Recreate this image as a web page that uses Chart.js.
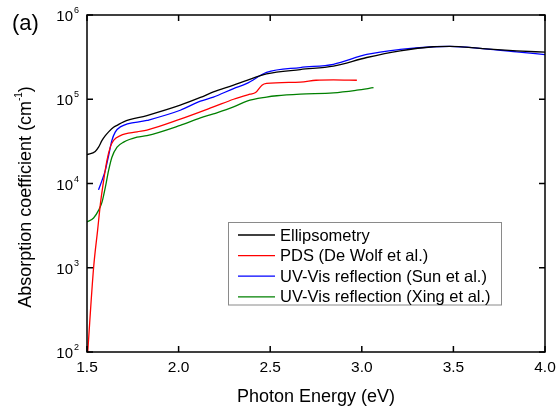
<!DOCTYPE html>
<html><head><meta charset="utf-8">
<script src="https://cdn.jsdelivr.net/npm/chart.js@4/dist/chart.umd.min.js"></script>
<style>html,body{margin:0;padding:0;background:#fff}#wrap{width:556px;height:410px;position:relative}</style>
</head><body><div id="wrap"><canvas id="c" width="556" height="410"></canvas></div>
<script>
// ---- data ----
const seriesNames = ['Ellipsometry','PDS (De Wolf et al.)','UV-Vis reflection (Sun et al.)','UV-Vis reflection (Xing et al.)'];
const seriesColors = ['#000000','#ff0000','#0000ff','#008000'];

const ellE = [1.5,1.545,1.563,1.582,1.6,1.618,1.645,1.664,1.7,1.827,2.009,2.119,2.19,2.30,2.373,2.48,2.664,2.845,3.027,3.21,3.39,3.48,3.66,3.845,4.0];
const ellA = [2.2e4,2.4e4,2.7e4,3.25e4,3.7e4,4.1e4,4.65e4,4.9e4,5.4e4,6.4e4,8.5e4,1.05e5,1.22e5,1.47e5,1.68e5,2.0e5,2.25e5,2.47e5,3.13e5,3.76e5,4.2e5,4.25e5,4.0e5,3.76e5,3.62e5];

const pdsE = [1.504,1.536,1.558,1.573,1.591,1.609,1.627,1.645,1.682,1.773,1.827,2.009,2.19,2.30,2.39,2.42,2.455,2.48,2.664,2.75,2.845,2.973];
const pdsA = [100,1000,2800,5700,1.09e4,1.88e4,2.7e4,3.25e4,3.7e4,4.1e4,4.3e4,5.8e4,8.1e4,1.0e5,1.15e5,1.2e5,1.47e5,1.54e5,1.6e5,1.68e5,1.7e5,1.68e5];

const sunE = [1.563,1.582,1.6,1.618,1.636,1.654,1.682,1.827,2.009,2.119,2.19,2.30,2.373,2.48,2.664,2.845,3.027,3.21,3.39,3.48,3.66,3.845,4.0];
const sunA = [8.4e3,1.09e4,1.43e4,2.15e4,3.25e4,4.07e4,4.7e4,5.6e4,7.4e4,9.5e4,1.06e5,1.34e5,1.54e5,2.08e5,2.38e5,2.6e5,3.4e5,3.9e5,4.2e5,4.25e5,4.0e5,3.66e5,3.38e5];

const xingE = [1.5,1.536,1.563,1.582,1.6,1.618,1.636,1.664,1.7,1.773,1.827,2.009,2.119,2.19,2.30,2.373,2.48,2.536,2.664,2.845,2.973,3.064];
const xingA = [3.5e3,3.9e3,4.8e3,6.0e3,9.0e3,1.43e4,2.05e4,2.7e4,3.1e4,3.55e4,3.7e4,4.9e4,6.0e4,6.7e4,8.1e4,9.5e4,1.06e5,1.1e5,1.15e5,1.19e5,1.28e5,1.37e5];

const xTicks = [1.5,2.0,2.5,3.0,3.5,4.0];
const xTickLabels = ['1.5','2.0','2.5','3.0','3.5','4.0'];
const yTicks = [1e2,1e3,1e4,1e5,1e6];
const yTickExp = ['2','3','4','5','6'];
const xTitle = 'Photon Energy (eV)';
const yTitleMain = 'Absorption coefficient (cm';
const yTitleSup = '-1';
const yTitleEnd = ')';
const panelLabel = '(a)';

// ---- build ----
const FONT = '"Liberation Sans", Arial, sans-serif';
const pts = (xs, ys) => xs.map((v,i)=>({x:v, y:ys[i]}));
const allE = [ellE, pdsE, sunE, xingE];
const allA = [ellA, pdsA, sunA, xingA];
const datasets = seriesNames.map((n,i)=>({
  label:n, data:pts(allE[i], allA[i]), borderColor:seriesColors[i], backgroundColor:seriesColors[i],
  borderWidth:1.3, pointRadius:0, cubicInterpolationMode:'monotone', fill:false
}));

const decor = {
  id:'decor',
  afterDraw(chart){
    const {ctx, chartArea:a, scales:{x,y}} = chart;
    ctx.save();
    // frame
    ctx.strokeStyle='#000'; ctx.lineWidth=1.5;
    ctx.strokeRect(a.left, a.top, a.right-a.left, a.bottom-a.top);
    // inward ticks
    ctx.beginPath();
    xTicks.forEach(v=>{ const p=x.getPixelForValue(v);
      ctx.moveTo(p,a.bottom); ctx.lineTo(p,a.bottom-6);
      ctx.moveTo(p,a.top); ctx.lineTo(p,a.top+6); });
    yTicks.forEach(v=>{ const p=y.getPixelForValue(v);
      ctx.moveTo(a.left,p); ctx.lineTo(a.left+6,p);
      ctx.moveTo(a.right,p); ctx.lineTo(a.right-6,p); });
    ctx.stroke();
    ctx.fillStyle='#000';
    // x tick labels
    ctx.font='15.5px '+FONT; ctx.textAlign='center'; ctx.textBaseline='middle';
    xTicks.forEach((v,i)=>ctx.fillText(xTickLabels[i], x.getPixelForValue(v), a.bottom+16));
    // y tick labels 10^n
    yTicks.forEach((v,i)=>{ const p=y.getPixelForValue(v);
      ctx.font='15px '+FONT; ctx.textAlign='right'; ctx.textBaseline='middle';
      ctx.fillText('10', a.left-14, p+2);
      ctx.font='9px '+FONT; ctx.textAlign='left'; ctx.textBaseline='alphabetic';
      ctx.fillText(yTickExp[i], a.left-13, p-2);
    });
    // x title
    ctx.font='18px '+FONT; ctx.textAlign='center'; ctx.textBaseline='middle';
    ctx.fillText(xTitle, (a.left+a.right)/2, 397);
    // y title (rotated)
    ctx.save();
    ctx.translate(25, 197); ctx.rotate(-Math.PI/2);
    ctx.font='18px '+FONT;
    const w1=ctx.measureText(yTitleMain).width;
    ctx.font='10px '+FONT; const w2=ctx.measureText(yTitleSup).width;
    ctx.font='18px '+FONT; const w3=ctx.measureText(yTitleEnd).width;
    const tot=w1+w2+w3; let sx=-tot/2;
    ctx.textAlign='left'; ctx.textBaseline='alphabetic';
    ctx.fillText(yTitleMain, sx, 6); sx+=w1;
    ctx.font='10px '+FONT; ctx.fillText(yTitleSup, sx, -3); sx+=w2;
    ctx.font='18px '+FONT; ctx.fillText(yTitleEnd, sx, 6);
    ctx.restore();
    // panel label
    ctx.font='22px '+FONT; ctx.textAlign='left'; ctx.textBaseline='middle';
    ctx.fillText(panelLabel, 12, 24);
    // legend box
    const lx=228.5, ly=222.5, lw=273, lh=82.5;
    ctx.fillStyle='#fff'; ctx.fillRect(lx,ly,lw,lh);
    ctx.strokeStyle='#8a8a8a'; ctx.lineWidth=1; ctx.strokeRect(lx,ly,lw,lh);
    ctx.font='16.5px '+FONT; ctx.textAlign='left'; ctx.textBaseline='middle';
    chart.data.datasets.forEach((d,i)=>{
      const yy = 235 + i*20.6;
      ctx.strokeStyle=d.borderColor; ctx.lineWidth=1.3;
      ctx.beginPath(); ctx.moveTo(238,yy); ctx.lineTo(275,yy); ctx.stroke();
      ctx.fillStyle='#000'; ctx.fillText(d.label, 280, yy+1);
    });
    ctx.restore();
  }
};

new Chart(document.getElementById('c'), {
  type:'line',
  data:{datasets},
  options:{
    responsive:false, animation:false, devicePixelRatio:1,
    layout:{padding:{left:0, right:11, top:15, bottom:0}},
    plugins:{legend:{display:false}, tooltip:{enabled:false}},
    scales:{
      x:{type:'linear', min:1.5, max:4.0, display:true,
         grid:{display:false, drawTicks:false}, border:{display:false}, ticks:{display:false},
         afterFit(s){ s.height = 58; }},
      y:{type:'logarithmic', min:100, max:1e6, display:true,
         grid:{display:false, drawTicks:false}, border:{display:false}, ticks:{display:false},
         afterFit(s){ s.width = 87; }}
    }
  },
  plugins:[decor]
});
</script></body></html>
